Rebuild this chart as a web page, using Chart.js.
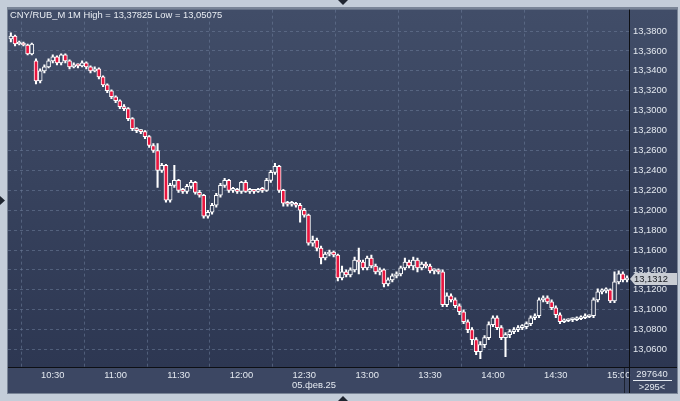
<!DOCTYPE html>
<html>
<head>
<meta charset="utf-8">
<script src="https://cdn.jsdelivr.net/npm/chart.js@4/dist/chart.umd.min.js"></script>
<style>
html, body { margin: 0; padding: 0; background: #c4cdd9; }
canvas { display: block; }
</style>
</head>
<body>
<canvas id="chart" width="680" height="401"></canvas>
<script>
var title = 'CNY/RUB_M 1M High = 13,37825 Low = 13,05075';
var dateLabel = '05.фев.25';
var lastPrice = '13,1312';
var barCount = '297640';
var barsShown = '>295<';

// candles, first one at 10:10, one every 2 minutes
var startMinute = 610;
var stepMinutes = 2;

var opens = [
    13.372, 13.375, 13.367, 13.368, 13.366, 13.357, 13.350, 13.330, 13.340, 13.344,
    13.350, 13.354, 13.348, 13.356, 13.350, 13.344, 13.346, 13.345, 13.348, 13.344,
    13.340, 13.342, 13.334, 13.326, 13.320, 13.314, 13.310, 13.304, 13.302, 13.292,
    13.282, 13.280, 13.279, 13.274, 13.265, 13.260, 13.240, 13.245, 13.210, 13.225,
    13.230, 13.220, 13.219, 13.224, 13.228, 13.218, 13.215, 13.194, 13.198, 13.205,
    13.215, 13.225, 13.230, 13.220, 13.221, 13.219, 13.228, 13.219, 13.220, 13.219,
    13.221, 13.220, 13.230, 13.238, 13.244, 13.220, 13.207, 13.206, 13.207, 13.205,
    13.200, 13.195, 13.167, 13.170, 13.162, 13.152, 13.156, 13.158, 13.155, 13.132,
    13.138, 13.135, 13.140, 13.150, 13.148, 13.142, 13.152, 13.144, 13.138, 13.140,
    13.126, 13.130, 13.134, 13.136, 13.142, 13.148, 13.144, 13.150, 13.142, 13.146,
    13.144, 13.139, 13.139, 13.138, 13.105, 13.114, 13.110, 13.104, 13.098, 13.088,
    13.080, 13.070, 13.058, 13.065, 13.072, 13.085, 13.092, 13.082, 13.072, 13.075,
    13.078, 13.080, 13.082, 13.083, 13.086, 13.092, 13.094, 13.110, 13.112, 13.108,
    13.102, 13.095, 13.088, 13.089, 13.090, 13.090, 13.091, 13.092, 13.093, 13.094,
    13.110, 13.118, 13.119, 13.120, 13.109, 13.128, 13.136, 13.130
];
var highs = [
    13.3783, 13.376, 13.370, 13.369, 13.367, 13.368, 13.352, 13.342, 13.346, 13.352,
    13.356, 13.355, 13.357, 13.357, 13.351, 13.348, 13.347, 13.350, 13.349, 13.345,
    13.344, 13.343, 13.335, 13.327, 13.321, 13.315, 13.311, 13.306, 13.303, 13.293,
    13.283, 13.281, 13.280, 13.275, 13.267, 13.267, 13.247, 13.246, 13.227, 13.245,
    13.231, 13.222, 13.226, 13.230, 13.229, 13.220, 13.216, 13.200, 13.207, 13.217,
    13.227, 13.232, 13.231, 13.223, 13.222, 13.229, 13.230, 13.222, 13.221, 13.222,
    13.223, 13.232, 13.240, 13.247, 13.245, 13.221, 13.209, 13.209, 13.208, 13.207,
    13.202, 13.196, 13.174, 13.172, 13.164, 13.158, 13.160, 13.159, 13.156, 13.144,
    13.140, 13.142, 13.153, 13.162, 13.150, 13.154, 13.155, 13.146, 13.142, 13.141,
    13.132, 13.136, 13.138, 13.144, 13.152, 13.150, 13.153, 13.152, 13.148, 13.148,
    13.146, 13.141, 13.141, 13.140, 13.117, 13.116, 13.112, 13.106, 13.100, 13.090,
    13.082, 13.072, 13.068, 13.074, 13.088, 13.094, 13.094, 13.084, 13.077, 13.080,
    13.082, 13.084, 13.085, 13.088, 13.094, 13.096, 13.112, 13.114, 13.114, 13.110,
    13.104, 13.097, 13.091, 13.091, 13.092, 13.093, 13.094, 13.096, 13.095, 13.112,
    13.121, 13.121, 13.122, 13.121, 13.138, 13.139, 13.138, 13.134
];
var lows = [
    13.369, 13.365, 13.366, 13.365, 13.356, 13.356, 13.327, 13.328, 13.338, 13.343,
    13.348, 13.346, 13.346, 13.348, 13.342, 13.343, 13.343, 13.344, 13.342, 13.338,
    13.339, 13.332, 13.324, 13.318, 13.312, 13.308, 13.302, 13.300, 13.290, 13.280,
    13.278, 13.277, 13.272, 13.263, 13.258, 13.223, 13.238, 13.208, 13.208, 13.223,
    13.218, 13.217, 13.217, 13.222, 13.216, 13.213, 13.192, 13.192, 13.196, 13.203,
    13.213, 13.223, 13.218, 13.218, 13.217, 13.217, 13.218, 13.217, 13.217, 13.218,
    13.218, 13.219, 13.228, 13.236, 13.218, 13.204, 13.204, 13.204, 13.203, 13.188,
    13.193, 13.165, 13.164, 13.159, 13.146, 13.150, 13.154, 13.153, 13.129, 13.130,
    13.133, 13.133, 13.138, 13.136, 13.140, 13.140, 13.142, 13.136, 13.135, 13.123,
    13.124, 13.128, 13.132, 13.134, 13.140, 13.142, 13.140, 13.138, 13.140, 13.142,
    13.137, 13.136, 13.136, 13.103, 13.103, 13.108, 13.102, 13.095, 13.086, 13.077,
    13.065, 13.055, 13.0508, 13.062, 13.070, 13.083, 13.080, 13.070, 13.053, 13.072,
    13.076, 13.078, 13.080, 13.081, 13.084, 13.090, 13.092, 13.108, 13.106, 13.100,
    13.092, 13.086, 13.087, 13.088, 13.088, 13.089, 13.090, 13.091, 13.092, 13.092,
    13.108, 13.116, 13.117, 13.107, 13.107, 13.126, 13.128, 13.128
];
var closes = [
    13.375, 13.367, 13.368, 13.366, 13.357, 13.367, 13.330, 13.340, 13.344, 13.350,
    13.354, 13.348, 13.356, 13.350, 13.344, 13.346, 13.345, 13.348, 13.344, 13.340,
    13.342, 13.334, 13.326, 13.320, 13.314, 13.310, 13.304, 13.302, 13.292, 13.282,
    13.280, 13.279, 13.274, 13.265, 13.260, 13.240, 13.245, 13.210, 13.225, 13.230,
    13.220, 13.219, 13.224, 13.228, 13.218, 13.215, 13.194, 13.198, 13.205, 13.215,
    13.225, 13.230, 13.220, 13.221, 13.219, 13.228, 13.219, 13.220, 13.219, 13.221,
    13.220, 13.230, 13.238, 13.244, 13.220, 13.207, 13.206, 13.207, 13.205, 13.200,
    13.195, 13.167, 13.170, 13.162, 13.152, 13.156, 13.158, 13.155, 13.132, 13.138,
    13.135, 13.140, 13.150, 13.148, 13.142, 13.152, 13.144, 13.138, 13.140, 13.126,
    13.130, 13.134, 13.136, 13.142, 13.148, 13.144, 13.150, 13.142, 13.146, 13.144,
    13.139, 13.139, 13.138, 13.105, 13.114, 13.110, 13.104, 13.098, 13.088, 13.080,
    13.070, 13.058, 13.065, 13.072, 13.085, 13.092, 13.082, 13.072, 13.075, 13.078,
    13.080, 13.082, 13.083, 13.086, 13.092, 13.094, 13.110, 13.112, 13.108, 13.102,
    13.095, 13.088, 13.089, 13.090, 13.090, 13.091, 13.092, 13.093, 13.094, 13.110,
    13.118, 13.119, 13.120, 13.109, 13.128, 13.136, 13.130, 13.1312
];

var xTickMinutes = [630, 660, 690, 720, 750, 780, 810, 840, 870, 900];
var xTickLabels = ['10:30', '11:00', '11:30', '12:00', '12:30', '13:00', '13:30', '14:00', '14:30', '15:00'];
var yTicks = [13.06, 13.08, 13.10, 13.12, 13.14, 13.16, 13.18, 13.20, 13.22, 13.24,
    13.26, 13.28, 13.30, 13.32, 13.34, 13.36, 13.38];

var font = "'Liberation Sans', Arial, sans-serif";
var fontSize = 9.4;
var yMin = 13.0425, yMax = 13.4015;
var topRgb = [65, 77, 104], bottomRgb = [45, 55, 82];

function bgAt(price) {
    var t = (yMax - price) / (yMax - yMin);
    var c = topRgb.map(function (v, k) { return Math.round(v + (bottomRgb[k] - v) * t); });
    return 'rgb(' + c.join(',') + ')';
}

function bodyFill(ctx) {
    var i = ctx.dataIndex;
    if (closes[i] < opens[i]) return '#e8163f';
    return bgAt((opens[i] + closes[i]) / 2);
}

function tri(c, pts, color) {
    c.fillStyle = color;
    c.beginPath();
    c.moveTo(pts[0], pts[1]);
    c.lineTo(pts[2], pts[3]);
    c.lineTo(pts[4], pts[5]);
    c.closePath();
    c.fill();
}

var frame = {
    id: 'frame',
    beforeDraw: function (chart) {
        var c = chart.ctx, a = chart.chartArea;
        c.save();
        c.fillStyle = '#c4cdd9';
        c.fillRect(0, 0, 680, 401);
        c.fillStyle = '#7a8597';
        c.fillRect(7, 7, 671, 387);
        var g = c.createLinearGradient(0, a.top, 0, a.bottom);
        g.addColorStop(0, 'rgb(' + topRgb.join(',') + ')');
        g.addColorStop(1, 'rgb(' + bottomRgb.join(',') + ')');
        c.fillStyle = g;
        c.fillRect(a.left, a.top, 677 - a.left, a.bottom - a.top);
        c.fillStyle = '#3c4763';
        c.fillRect(a.left, a.bottom, 677 - a.left, 393 - a.bottom);
        c.restore();
    },
    afterDraw: function (chart) {
        var c = chart.ctx, a = chart.chartArea;
        var y = chart.scales.y;
        c.save();
        // panel separators
        c.fillStyle = '#0d0f14';
        c.fillRect(a.right, a.top, 1, 393 - a.top);
        c.fillRect(a.left, a.bottom, 677 - a.left, 1);
        c.fillStyle = '#1c2231';
        c.fillRect(624, a.bottom + 1, 1, 392 - a.bottom);

        c.font = fontSize + 'px ' + font;
        c.textBaseline = 'alphabetic';
        c.textAlign = 'left';
        c.fillStyle = '#e9edf3';
        c.fillText(title, 10, 18);

        // last price marker
        var py = Math.round(y.getPixelForValue(13.1312));
        c.fillStyle = '#c9cdd4';
        c.beginPath();
        c.moveTo(a.right + 1, py);
        c.lineTo(a.right + 6, py - 6);
        c.lineTo(677, py - 6);
        c.lineTo(677, py + 6);
        c.lineTo(a.right + 6, py + 6);
        c.closePath();
        c.fill();
        c.fillStyle = '#15181e';
        c.textBaseline = 'middle';
        c.fillText(lastPrice, a.right + 5, py + 0.5);

        // bottom right corner
        c.fillStyle = '#e4e9f0';
        c.textAlign = 'center';
        c.fillText(barCount, 652, 374);
        c.fillText(barsShown, 652, 387);
        c.fillRect(633, 380, 39, 1);
        c.fillText(dateLabel, 314, 385);

        // frame arrows
        tri(c, [338, 0, 348, 0, 343, 5], '#1f2530');
        tri(c, [338, 401, 348, 401, 343, 396], '#1f2530');
        tri(c, [0, 196, 0, 205, 5, 200.5], '#1f2530');
        c.restore();
    }
};

var wickData = [], bodyData = [];
for (var i = 0; i < opens.length; i++) {
    var m = startMinute + i * stepMinutes;
    wickData.push({ x: m, y: [lows[i], highs[i]] });
    bodyData.push({ x: m, y: [opens[i], closes[i]] });
}

new Chart(document.getElementById('chart'), {
    type: 'bar',
    data: {
        datasets: [{
            data: wickData,
            backgroundColor: '#ffffff',
            borderWidth: 0,
            barThickness: 1.4,
            grouped: false,
            order: 2
        }, {
            data: bodyData,
            backgroundColor: bodyFill,
            borderColor: '#ffffff',
            borderWidth: 1,
            borderSkipped: false,
            barThickness: 4,
            minBarLength: 2,
            grouped: false,
            order: 1
        }]
    },
    options: {
        responsive: false,
        devicePixelRatio: 1,
        animation: false,
        layout: { padding: { left: 8, top: 8, right: 3, bottom: 8 } },
        plugins: { legend: { display: false }, tooltip: { enabled: false } },
        scales: {
            x: {
                type: 'linear',
                min: 608.64,
                max: 904.92,
                offset: false,
                afterBuildTicks: function (scale) {
                    scale.ticks = xTickMinutes.map(function (v) { return { value: v }; });
                },
                afterFit: function (scale) { scale.height = 26; },
                grid: { color: 'rgba(110,125,155,0.55)', drawTicks: false },
                border: { display: false, dash: [3, 3] },
                ticks: {
                    autoSkip: false,
                    maxRotation: 0,
                    padding: 3,
                    color: '#e4e9f0',
                    font: { family: font, size: fontSize },
                    callback: function (v, idx) { return xTickLabels[idx]; }
                }
            },
            y: {
                position: 'right',
                min: yMin,
                max: yMax,
                afterBuildTicks: function (scale) {
                    scale.ticks = yTicks.map(function (v) { return { value: v }; });
                },
                afterFit: function (scale) { scale.width = 48; },
                grid: { color: 'rgba(110,125,155,0.55)', drawTicks: false },
                border: { display: false, dash: [3, 3] },
                ticks: {
                    padding: 4,
                    color: '#e4e9f0',
                    font: { family: font, size: fontSize },
                    callback: function (v) { return v.toFixed(4).replace('.', ','); }
                }
            }
        }
    },
    plugins: [frame]
});
</script>
</body>
</html>
